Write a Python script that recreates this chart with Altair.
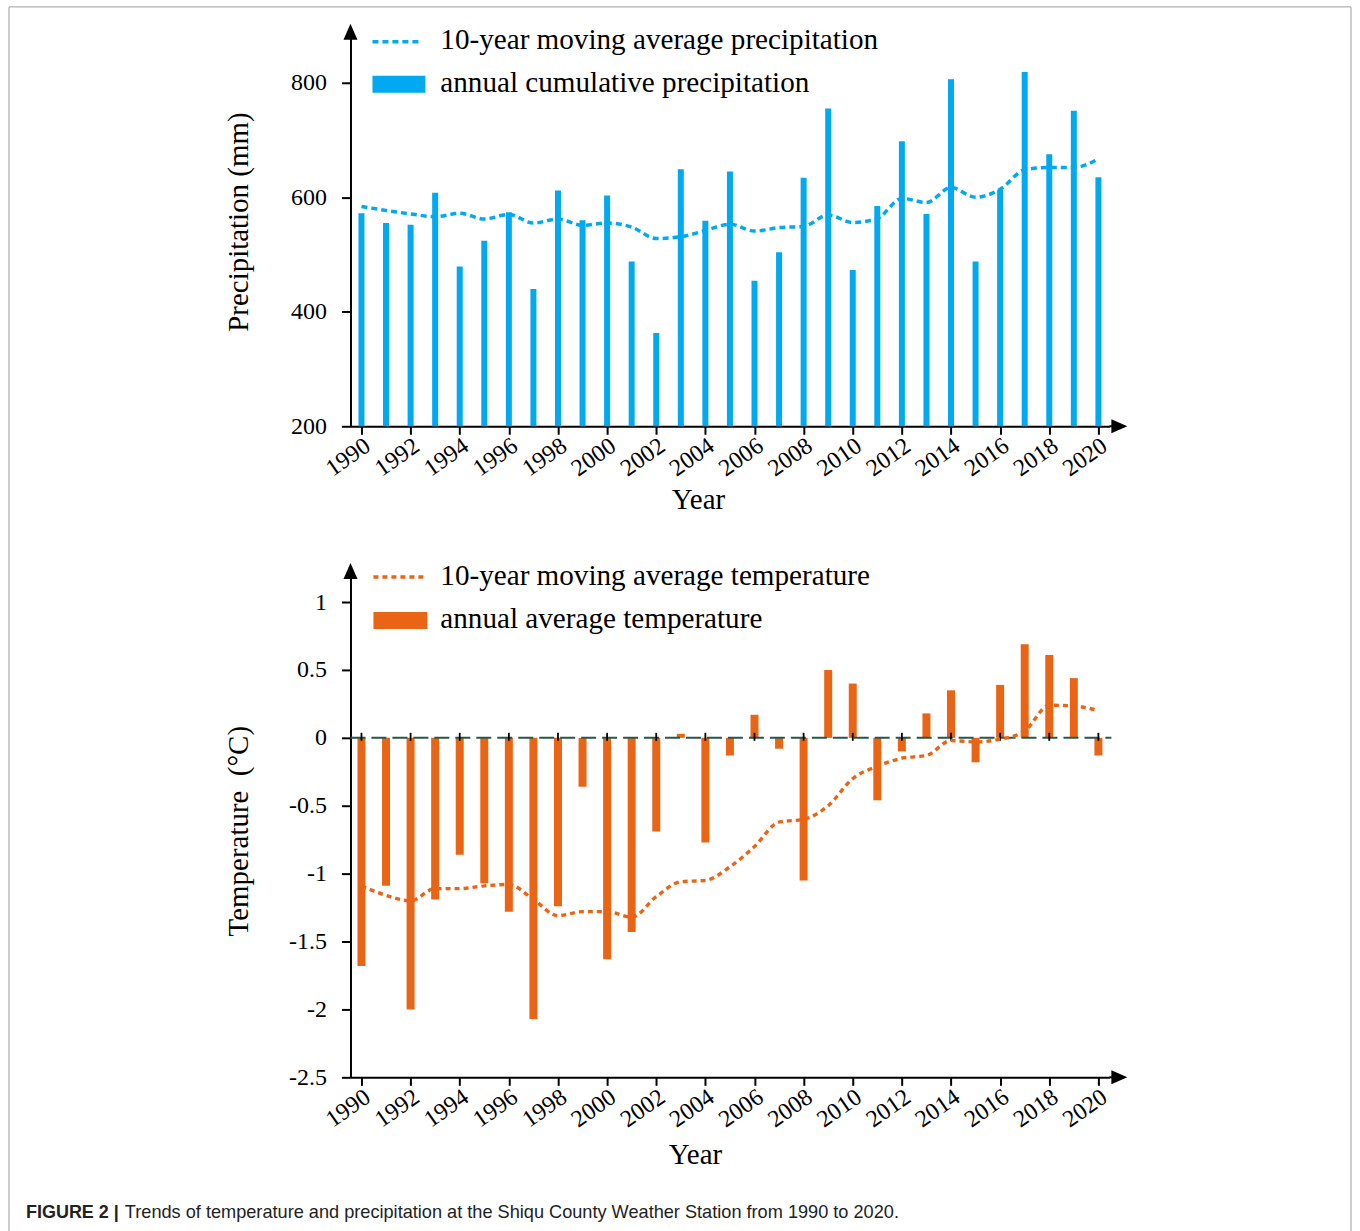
import altair as alt
import pandas as pd

# ---- data -------------------------------------------------------------
years = list(range(1990, 2021))
precip = [572, 555, 552, 608, 479, 524, 574, 440, 612, 560, 603, 488, 363, 649, 559,
          645, 454, 504, 634, 755, 473, 585, 698, 571, 806, 488, 613, 819, 675, 751, 635]
precip_ma = [584, 577, 571, 566, 572, 562, 570, 555, 562, 551, 555, 548, 528, 531, 542,
             553, 541, 547, 549, 569, 556, 563, 598, 591, 617, 600, 614, 648, 652, 652, 667]
temp = [-1.68, -1.09, -2.00, -1.19, -0.86, -1.07, -1.28, -2.07, -1.24, -0.36, -1.63,
        -1.43, -0.69, 0.03, -0.77, -0.13, 0.17, -0.08, -1.05, 0.50, 0.40, -0.46, -0.10,
        0.18, 0.35, -0.18, 0.39, 0.69, 0.61, 0.44, -0.13]
temp_ma = [-1.09, -1.16, -1.20, -1.11, -1.11, -1.09, -1.08, -1.19, -1.31, -1.28, -1.28,
           -1.32, -1.17, -1.06, -1.05, -0.95, -0.80, -0.62, -0.60, -0.50, -0.30, -0.21,
           -0.15, -0.13, -0.02, -0.03, -0.01, 0.05, 0.24, 0.235, 0.20]
tick_years = list(range(1990, 2021, 2))
precip_ticks = [200, 400, 600, 800]
temp_ticks = [-2.5, -2, -1.5, -1, -0.5, 0, 0.5, 1]

legend_precip = ["10-year moving average precipitation", "annual cumulative precipitation"]
legend_temp = ["10-year moving average temperature", "annual average temperature"]
caption_head = "FIGURE 2 |"
caption_body = ("Trends of temperature and precipitation at the Shiqu County "
                "Weather Station from 1990 to 2020.")

# ---- styling ----------------------------------------------------------
BLUE = "#00A9F0"
ORANGE = "#EA6416"
ZERO = "#24584A"
FRAME = "#9c9c9c"
SERIF = "Liberation Serif"
SANS = "Liberation Sans"

W = 760
H_TOP = 400
H_BOT = 512
X_DOMAIN = [1989.553, 2020.447]

prec_df = pd.DataFrame({"year": years, "precip": precip, "precip_ma": precip_ma})
temp_df = pd.DataFrame({"year": years, "temp": temp, "temp_ma": temp_ma})
tick_df = pd.DataFrame({"year": tick_years})
one = pd.DataFrame({"k": [0]})

x_scale = alt.Scale(domain=X_DOMAIN, nice=False, zero=False, padding=0)


def year_axis(title_x, title_y):
    return alt.Axis(values=tick_years, labelExpr="'' + datum.value", labelAngle=-35,
                    labelAlign="right", labelBaseline="middle", labelFont=SERIF,
                    labelFontSize=24, labelPadding=9, labelOffset=6, labelOverlap=False,
                    labelBound=False, labelFlush=False, tickSize=8, title="Year",
                    titleX=title_x, titleY=title_y, titleAlign="center",
                    titleBaseline="alphabetic", titleAngle=0)


def value_axis(ticks, title, title_y):
    return alt.Axis(values=ticks, labelExpr="'' + datum.value", labelFont=SERIF,
                    labelFontSize=24, labelPadding=15, labelOverlap=False,
                    labelFlush=False, tickSize=9, title=title, titleX=-103,
                    titleY=title_y, titleAngle=-90, titleAlign="center",
                    titleBaseline="alphabetic")


def legend_text(label, y):
    return alt.Chart(one).mark_text(text=label, align="left", baseline="middle",
                                    font=SERIF, fontSize=29.2, color="black").encode(
        x=alt.value(90), y=alt.value(y))


def arrows(h):
    up = alt.Chart(one).mark_point(shape="M0,-1L0.875,1L-0.875,1Z", filled=True,
                                   color="black", size=256, opacity=1).encode(
        x=alt.value(0), y=alt.value(5))
    ext = alt.Chart(one).mark_rule(color="black", strokeWidth=2).encode(
        x=alt.value(W), x2=alt.value(764), y=alt.value(h))
    right = alt.Chart(one).mark_point(shape="M1,0L-1,0.875L-1,-0.875Z", filled=True,
                                      color="black", size=256, opacity=1).encode(
        x=alt.value(770), y=alt.value(h))
    return [ext, up, right]


# ---- precipitation panel -----------------------------------------------
bars_p = alt.Chart(prec_df).mark_bar(color=BLUE, size=6).encode(
    x=alt.X("year:Q", scale=x_scale, axis=year_axis(348, 82)),
    y=alt.Y("precip:Q",
            scale=alt.Scale(domain=[200, 897.7], nice=False, zero=False, padding=0),
            axis=value_axis(precip_ticks, "Precipitation (mm)", 195)),
    y2=alt.datum(200),
)
ma_p = alt.Chart(prec_df).mark_line(color=BLUE, strokeWidth=3.5, strokeDash=[6, 4],
                                    interpolate="monotone").encode(
    x="year:Q", y=alt.Y("precip_ma:Q", title="Precipitation (mm)"))

leg_p = [
    alt.Chart(one).mark_rule(color=BLUE, strokeWidth=3.5, strokeDash=[6, 4]).encode(
        x=alt.value(22), x2=alt.value(72), y=alt.value(15)),
    alt.Chart(one).mark_rect(color=BLUE).encode(
        x=alt.value(22), x2=alt.value(75), y=alt.value(49), y2=alt.value(66)),
    legend_text(legend_precip[0], 13),
    legend_text(legend_precip[1], 56),
]

# figure frame (left, top, right edges)
frame = [
    alt.Chart(one).mark_rule(color=FRAME, strokeWidth=1).encode(
        x=alt.value(-342), y=alt.value(-20), y2=alt.value(1206)),
    alt.Chart(one).mark_rule(color=FRAME, strokeWidth=1).encode(
        x=alt.value(-342), x2=alt.value(1002), y=alt.value(-20)),
    alt.Chart(one).mark_rule(color=FRAME, strokeWidth=1).encode(
        x=alt.value(1002), y=alt.value(-20), y2=alt.value(1206)),
]

top = alt.layer(bars_p, ma_p, *leg_p, *arrows(H_TOP), *frame).properties(
    width=W, height=H_TOP)

# ---- temperature panel -------------------------------------------------
bars_t = alt.Chart(temp_df).mark_bar(color=ORANGE, size=8).encode(
    x=alt.X("year:Q", scale=x_scale, axis=year_axis(345, 86)),
    y=alt.Y("temp:Q",
            scale=alt.Scale(domain=[-2.5, 1.265], nice=False, zero=False, padding=0),
            axis=value_axis(temp_ticks, "Temperature\u00a0\u00a0(°C)", 265)),
    y2=alt.datum(0),
)
zero_line = alt.Chart(one).mark_rule(color=ZERO, strokeWidth=2, strokeDash=[15, 6]).encode(
    y=alt.datum(0), x=alt.value(0), x2=alt.value(762))
zero_ticks = alt.Chart(tick_df).mark_rule(color="black", strokeWidth=1.8).encode(
    x="year:Q", y=alt.datum(0.037), y2=alt.datum(-0.022))
ma_t = alt.Chart(temp_df).mark_line(color=ORANGE, strokeWidth=3.4, strokeDash=[5, 4],
                                    interpolate="monotone").encode(
    x="year:Q", y=alt.Y("temp_ma:Q", title="Temperature\u00a0\u00a0(°C)"))

leg_t = [
    alt.Chart(one).mark_rule(color=ORANGE, strokeWidth=3.4, strokeDash=[5, 4]).encode(
        x=alt.value(23), x2=alt.value(73), y=alt.value(11)),
    alt.Chart(one).mark_rect(color=ORANGE).encode(
        x=alt.value(23), x2=alt.value(77), y=alt.value(46), y2=alt.value(63)),
    legend_text(legend_temp[0], 10),
    legend_text(legend_temp[1], 53),
]

caption = [
    alt.Chart(one).mark_text(text=caption_head, align="left", baseline="middle",
                             font=SANS, fontSize=18, fontWeight="bold",
                             color="#222222").encode(x=alt.value(-325), y=alt.value(648)),
    alt.Chart(one).mark_text(text=caption_body, align="left", baseline="middle",
                             font=SANS, fontSize=18.2, color="#222222").encode(
        x=alt.value(-226), y=alt.value(648)),
]

bottom = alt.layer(bars_t, zero_line, zero_ticks, ma_t, *leg_t, *arrows(H_BOT),
                   *caption).properties(width=W, height=H_BOT)

chart = alt.vconcat(top, bottom, spacing=140, bounds="flush").properties(
    padding={"left": 8, "top": 5, "right": 8, "bottom": 0},
    background="white",
).configure_view(stroke=None).configure_axis(
    domainColor="black", domainWidth=2, tickColor="black", tickWidth=2,
    labelColor="black", titleColor="black", labelFont=SERIF, titleFont=SERIF,
    titleFontWeight="normal", titleFontSize=29, grid=False,
)

chart.save("out.html", embed_options={"renderer": "svg", "actions": False})
